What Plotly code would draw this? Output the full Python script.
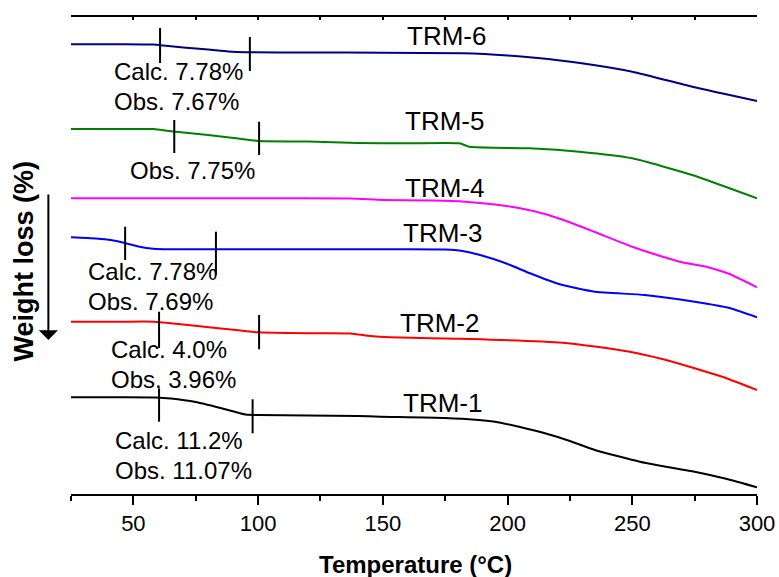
import plotly.graph_objects as go

# ---- data (temperature in °C, vertical offset position in stacked-curve units; larger = lower) ----
series_names = ["TRM-1", "TRM-2", "TRM-3", "TRM-4", "TRM-5", "TRM-6"]
series_colors = ["#000000", "#FF0000", "#0000FF", "#FF00FF", "#008000", "#000080"]

trm1_t = [25, 45, 59, 65, 75, 85, 95, 100, 140, 149, 175, 195, 205, 215, 225, 235, 253, 262, 275, 288, 300]
trm1_w = [397.3, 397.3, 397.5, 398.5, 402, 408, 414.5, 415, 416, 416.7, 418, 421.7, 427, 433.3, 441, 450, 461.7, 466, 471.7, 479, 487.3]

trm2_t = [25, 45, 58, 70, 85, 99.5, 120, 137, 145, 153, 185, 222, 235, 249, 262, 275, 288, 300]
trm2_w = [321.7, 321.7, 321.7, 324.5, 328.5, 332.3, 333.3, 333.5, 336, 337.3, 339, 342.7, 346.5, 351.7, 359, 368.3, 378.5, 390]

trm3_t = [25, 35, 41, 47, 52, 58, 65, 100, 150, 175, 182, 189, 199, 209, 216, 222, 235, 255, 275, 289, 300]
trm3_w = [237.3, 238.5, 240, 243.3, 246.5, 248.8, 249.3, 249.3, 249.3, 249.5, 251, 255, 263, 273.3, 280, 285, 291.7, 295, 301.7, 308, 317.3]

trm4_t = [25, 100, 137, 150, 170, 183, 195, 205, 215, 223, 235, 250, 260, 269, 280, 289, 300]
trm4_w = [198.3, 198.3, 198.5, 200, 200.5, 201.7, 204.5, 208.3, 214, 220.5, 232, 246.7, 255, 261.7, 267, 274, 287.3]

trm5_t = [25, 45, 58, 66, 80, 92, 100, 120, 140, 160, 180.7, 184.7, 208.7, 228.7, 250, 274, 300]
trm5_w = [129, 129, 129, 131.5, 135, 138.5, 141, 141.5, 143, 143.3, 143.3, 146.7, 148.3, 151.7, 158.3, 175, 198.3]

trm6_t = [25, 45, 58, 62, 70, 80, 88, 95, 120, 150, 182, 200, 211, 229, 250, 275, 300]
trm6_w = [44.3, 44.3, 44.6, 45.5, 47.5, 49.5, 51.5, 52.3, 52.5, 52.7, 53.3, 55.5, 57.8, 63, 71.7, 87.3, 101]

series_t = [trm1_t, trm2_t, trm3_t, trm4_t, trm5_t, trm6_t]
series_w = [trm1_w, trm2_w, trm3_w, trm4_w, trm5_w, trm6_w]

# step markers: temperature, top, bottom
marker_t = [60.7, 96.7, 66.4, 100.4, 46.7, 83.1, 60.3, 100.4, 60.3, 97.8]
marker_top = [28, 37, 120, 121.7, 226.7, 231.7, 311.7, 315, 388.3, 399.3]
marker_bot = [63, 71, 153, 155, 260, 275, 348, 349.3, 421.7, 433.3]

# curve name labels (left x in °C, y)
label_t = [157.1, 156.0, 157.1, 157.9, 157.9, 158.7]
label_w = [403, 323.3, 232.5, 187.5, 120.8, 36.2]

# loss annotations
note_text = ["Calc. 7.78%", "Obs. 7.67%", "Obs. 7.75%", "Calc. 7.78%", "Obs. 7.69%",
             "Calc. 4.0%", "Obs. 3.96%", "Calc. 11.2%", "Obs. 11.07%"]
note_t = [41.4, 41.4, 48.0, 31.1, 31.1, 40.1, 40.1, 42.0, 42.0]
note_w = [71.7, 101.7, 170.0, 271.7, 301.7, 349.5, 379.5, 440.0, 470.0]

x_ticks = [50, 100, 150, 200, 250, 300]

FONT = "Liberation Sans, Arial, sans-serif"

fig = go.Figure()
for name, col, t, w in zip(series_names, series_colors, series_t, series_w):
    fig.add_trace(go.Scatter(x=t, y=w, mode="lines", name=name,
                             line=dict(color=col, width=2, shape="spline", smoothing=0.5),
                             showlegend=False, hoverinfo="skip"))
for t, a, b in zip(marker_t, marker_top, marker_bot):
    fig.add_trace(go.Scatter(x=[t, t], y=[a, b], mode="lines",
                             line=dict(color="black", width=2),
                             showlegend=False, hoverinfo="skip"))
# invisible trace for top axis
fig.add_trace(go.Scatter(x=[25, 300], y=[494, 494], xaxis="x2", mode="lines",
                         line=dict(width=0), showlegend=False, hoverinfo="skip"))

annotations = []
for name, t, w in zip(series_names, label_t, label_w):
    annotations.append(dict(x=t, y=w, xref="x", yref="y", text=name, showarrow=False,
                            xanchor="left", yanchor="middle",
                            font=dict(family=FONT, size=26, color="black")))
for txt, t, w in zip(note_text, note_t, note_w):
    annotations.append(dict(x=t, y=w, xref="x", yref="y", text=txt, showarrow=False,
                            xanchor="left", yanchor="middle",
                            font=dict(family=FONT, size=24, color="black")))
# y axis title and arrow
annotations.append(dict(x=-0.068, y=0.488, xref="paper", yref="paper", text="<b>Weight loss (%)</b>",
                        textangle=-90, showarrow=False, xanchor="center", yanchor="middle",
                        font=dict(family=FONT, size=27, color="black")))
annotations.append(dict(x=-0.033, y=0.323, xref="paper", yref="paper", text="",
                        showarrow=True, ax=0, ay=-147, axref="pixel", ayref="pixel",
                        arrowhead=1, arrowsize=1.6, arrowwidth=2, arrowcolor="black"))
annotations.append(dict(x=0.502, y=-0.148, xref="paper", yref="paper", text="<b>Temperature (°C)</b>",
                        showarrow=False, xanchor="center", yanchor="middle",
                        font=dict(family=FONT, size=24, color="black")))

fig.update_layout(
    template="none",
    width=779, height=577,
    margin=dict(l=71, r=22, t=17, b=83),
    plot_bgcolor="white", paper_bgcolor="white",
    xaxis=dict(range=[25, 300], tickvals=x_ticks, ticks="outside", ticklen=9, tickwidth=2,
               tickcolor="black", showline=True, linecolor="black", linewidth=2,
               showgrid=False, zeroline=False, automargin=False,
               minor=dict(dtick=25, tick0=0, ticks="outside", ticklen=5, tickwidth=2, tickcolor="black"),
               tickfont=dict(family=FONT, size=22, color="black")),
    xaxis2=dict(range=[25, 300], overlaying="x", side="top", anchor="y", showline=True,
                linecolor="black", linewidth=2, ticks="inside", ticklen=3, tickwidth=1.5,
                tickcolor="black", dtick=25, tick0=0, showticklabels=False, showgrid=False,
                zeroline=False, automargin=False),
    yaxis=dict(range=[494, 17], showline=False, showticklabels=False, ticks="",
               showgrid=False, zeroline=False, automargin=False),
    annotations=annotations,
)
fig.write_html("out.html")
